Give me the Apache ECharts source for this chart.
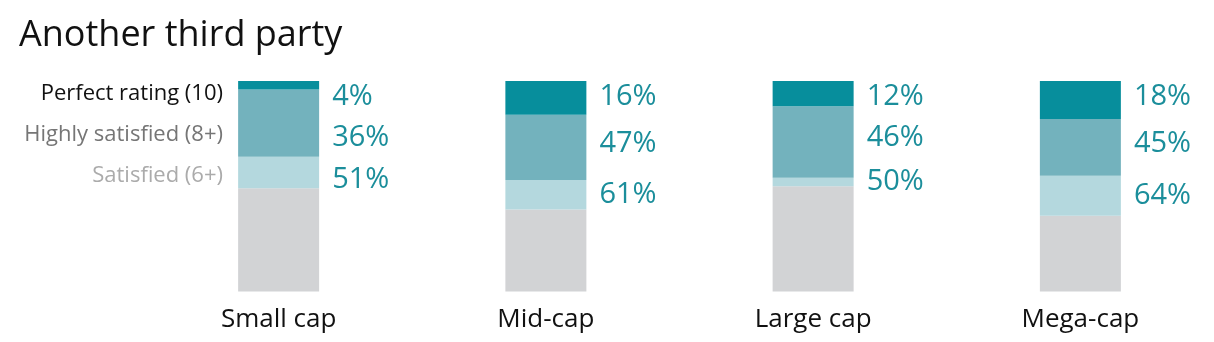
<!DOCTYPE html>
<html>
<head>
<meta charset="utf-8">
<script src="https://cdn.jsdelivr.net/npm/echarts@6/dist/echarts.min.js"></script>
<style>
html,body{margin:0;padding:0;background:#fff;}
#chart{width:1214px;height:342px;}
</style>
</head>
<body>
<div id="chart"></div>
<script>
// ---- Data ----
var categories = ['Small cap', 'Mid-cap', 'Large cap', 'Mega-cap'];
var perfect = [4, 16, 12, 18];      // Perfect rating (10)
var highly = [36, 47, 46, 45];      // Highly satisfied (8+), cumulative
var satisfied = [51, 61, 50, 64];   // Satisfied (6+), cumulative
var seriesNames = ['Perfect rating (10)', 'Highly satisfied (8+)', 'Satisfied (6+)'];

// ---- Derived stack segments ----
var restSeg = satisfied.map(function (v) { return 100 - v; });
var satSeg = satisfied.map(function (v, i) { return v - highly[i]; });
var highSeg = highly.map(function (v, i) { return v - perfect[i]; });
var perfSeg = perfect.slice();

var FONT = '"Open Sans", sans-serif';
var TEAL_TEXT = '#1b8e9b';
var BAR_W = 81;

var labelData = categories.map(function (c, i) {
  return [i, perfect[i], highly[i], satisfied[i]];
});

function renderLabels(params, api) {
  var i = api.value(0);
  var p = api.value(1), h = api.value(2), s = api.value(3);
  var top = api.coord([i, 100]);
  var yP = api.coord([i, 100 - p])[1];
  var yH = api.coord([i, 100 - h])[1];
  var yS = api.coord([i, 100 - s])[1];
  var x = top[0] + BAR_W / 2 + 13;
  var y0 = top[1] + 16;
  var y1 = Math.max((yP + yH) / 2 - 4, y0 + 41);
  var y2 = Math.max((yH + yS) / 2, y1 + 42);
  var vals = [p, h, s], ys = [y0, y1, y2];
  var children = vals.map(function (v, k) {
    return {
      type: 'text',
      style: {
        x: x, y: ys[k], text: v + '%',
        fill: TEAL_TEXT, font: '29px ' + FONT,
        align: 'left', verticalAlign: 'middle'
      }
    };
  });
  return { type: 'group', children: children };
}

var chart = echarts.init(document.getElementById('chart'), null, { renderer: 'canvas' });

var option = {
  backgroundColor: '#ffffff',
  animation: false,
  title: {
    text: 'Another third party',
    left: 14, top: 13,
    textStyle: { fontFamily: FONT, fontSize: 36, fontWeight: 'normal', color: '#111111' }
  },
  grid: { left: 145, top: 81, width: 1072, height: 210.5, containLabel: false },
  xAxis: {
    type: 'category',
    data: categories,
    axisLine: { show: false },
    axisTick: { show: false },
    axisLabel: { fontFamily: FONT, fontSize: 26, color: '#111111', margin: 15 }
  },
  yAxis: { type: 'value', min: 0, max: 100, show: false },
  graphic: [
    { type: 'text', right: 1214 - 223, top: 83, style: { text: seriesNames[0], fill: '#111111', font: '22px ' + FONT } },
    { type: 'text', right: 1214 - 223, top: 124, style: { text: seriesNames[1], fill: '#767676', font: '22px ' + FONT } },
    { type: 'text', right: 1214 - 223, top: 165, style: { text: seriesNames[2], fill: '#ababab', font: '22px ' + FONT } }
  ],
  series: [
    { name: 'Rest', type: 'bar', stack: 'all', barWidth: BAR_W, data: restSeg, itemStyle: { color: '#d2d3d5' }, silent: true },
    { name: seriesNames[2], type: 'bar', stack: 'all', barWidth: BAR_W, data: satSeg, itemStyle: { color: '#b4d8de' }, silent: true },
    { name: seriesNames[1], type: 'bar', stack: 'all', barWidth: BAR_W, data: highSeg, itemStyle: { color: '#73b2bd' }, silent: true },
    { name: seriesNames[0], type: 'bar', stack: 'all', barWidth: BAR_W, data: perfSeg, itemStyle: { color: '#078e9c' }, silent: true },
    { name: 'labels', type: 'custom', data: labelData, encode: { x: 0, y: 1 }, renderItem: renderLabels, silent: true, z: 10 }
  ]
};
chart.setOption(option);
</script>
</body>
</html>
